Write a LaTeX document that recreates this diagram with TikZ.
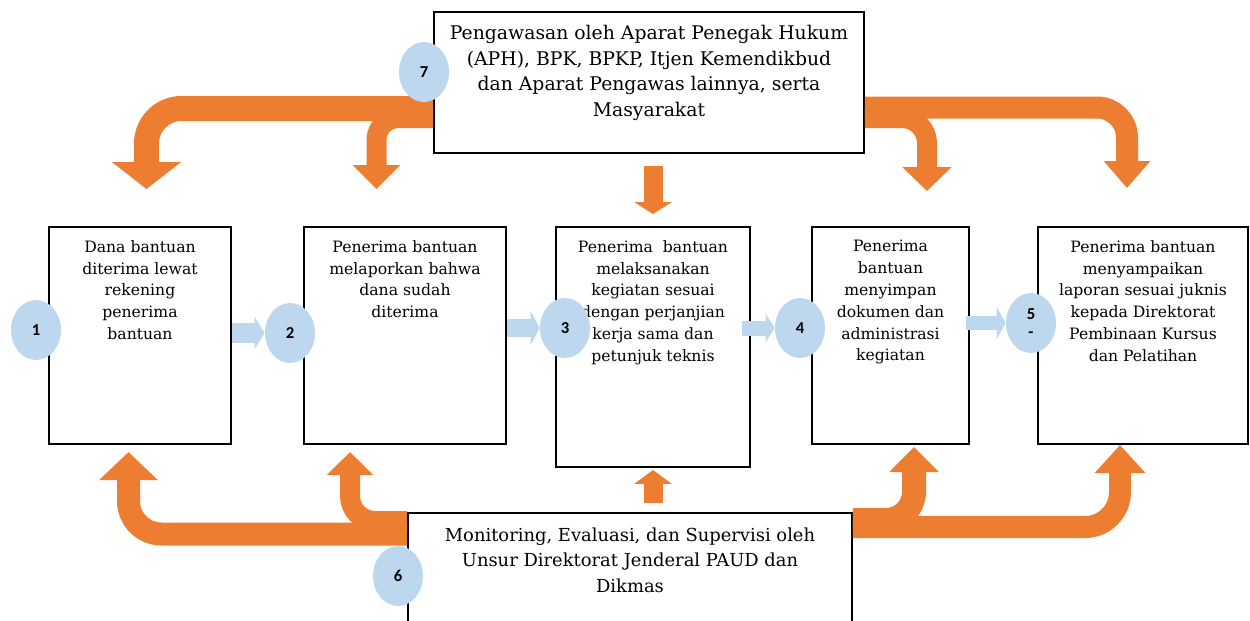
\documentclass[tikz,border=0pt]{standalone}
\usepackage{fontspec}
\setmainfont{DejaVu Serif}
\newfontfamily\numfont{Carlito}
\usetikzlibrary{arrows.meta,shapes.geometric}
\pgfdeclarelayer{front}
\pgfsetlayers{main,front}
\definecolor{orangeflow}{HTML}{ED7D31}
\definecolor{paleblue}{HTML}{BDD7EE}
\tikzset{
  box/.style={draw, line width=1.1pt, inner sep=0pt},
  boxtext/.style={align=center, inner sep=0pt, anchor=north, font=\fontsize{8.9}{12.4}\selectfont},
  bigtext/.style={align=center, inner sep=0pt, anchor=north, font=\fontsize{10.7}{14.6}\selectfont},
  num/.style={ellipse, fill=paleblue, inner sep=0pt, minimum width=1cm, minimum height=1.2cm,
    align=center, font=\numfont\bfseries\fontsize{9.5}{10}\selectfont},
  stepflow/.style args={#1/#2/#3}{draw=paleblue, line width=#1, -{Triangle[width=#2,length=#3]}},
  bendflow/.style args={#1/#2/#3/#4}{draw=orangeflow, line width=#1, rounded corners=#2,
    -{Triangle[width=#3,length=#4]}}
}
\begin{document}
\begin{tikzpicture}[x=0.02cm, y=-0.02cm]
\useasboundingbox (0,0) rectangle (1250,620);
% kotak langkah
\node[box, minimum width=3.64cm, minimum height=4.34cm] (b1) at (140,335.5) {};
\node[box, minimum width=4.04cm, minimum height=4.34cm] (b2) at (405,335.5) {};
\node[box, minimum width=3.88cm, minimum height=4.8cm] (b3) at (653,347) {};
\node[box, minimum width=3.14cm, minimum height=4.34cm] (b4) at (890.5,335.5) {};
\node[box, minimum width=4.2cm, minimum height=4.34cm] (b5) at (1143,335.5) {};
\node[box, minimum width=8.6cm, minimum height=2.82cm] (t) at (649,82.5) {};
\node[box, minimum width=8.88cm, minimum height=2.6cm] (m) at (630,578) {};
\node[boxtext] (l1) at ([yshift=-0.28cm]b1.north) {Dana bantuan\\diterima lewat\\rekening\\penerima\\bantuan};
\node[boxtext] (l2) at ([yshift=-0.28cm]b2.north) {Penerima bantuan\\melaporkan bahwa\\dana sudah\\diterima};
\node[boxtext] (l3) at ([yshift=-0.28cm]b3.north) {Penerima\ \ bantuan\\melaksanakan\\kegiatan sesuai\\dengan perjanjian\\kerja sama dan\\petunjuk teknis};
\node[boxtext] (l4) at ([yshift=-0.28cm]b4.north) {Penerima\\bantuan\\menyimpan\\dokumen dan\\administrasi\\kegiatan};
\node[boxtext] (l5) at ([yshift=-0.28cm]b5.north) {Penerima bantuan\\menyampaikan\\laporan sesuai juknis\\kepada Direktorat\\Pembinaan Kursus\\dan Pelatihan};
\node[bigtext] (lt) at ([yshift=-0.28cm]t.north) {Pengawasan oleh Aparat Penegak Hukum\\(APH), BPK, BPKP, Itjen Kemendikbud\\dan Aparat Pengawas lainnya, serta\\Masyarakat};
\node[bigtext, font=\fontsize{10.2}{14.6}\selectfont] (lm) at ([yshift=-0.3cm]m.north) {Monitoring, Evaluasi, dan Supervisi oleh\\Unsur Direktorat Jenderal PAUD dan\\Dikmas};
% nomor
\begin{pgfonlayer}{front}
\node[num] (c1) at (36,330) {1};
\node[num] (c2) at (290,333) {2};
\node[num] (c3) at (565,328) {3};
\node[num] (c4) at (800,328) {4};
\node[num] (c5) at (1031,323) {5\\-};
\node[num] (c6) at (398,576) {6};
\node[num] (c7) at (424,72) {7};
\end{pgfonlayer}
% alur antar langkah
\draw[stepflow=0.4cm/0.64cm/0.2cm] (b1.east |- c2) -- (c2.west);
\draw[stepflow=0.36cm/0.66cm/0.18cm] (b2.east |- c3) -- (c3.west);
\draw[stepflow=0.3cm/0.56cm/0.18cm] ([xshift=-0.18cm]b3.east |- c4) -- (c4.west);
\draw[stepflow=0.28cm/0.64cm/0.18cm] ([xshift=-0.08cm]b4.east |- c5) -- (c5.west);
% pengawasan
\draw[bendflow=0.5cm/0.7cm/1.36cm/0.54cm] (t.west |- 0,108.5) -| (146.5,189);
\draw[bendflow=0.4cm/0.44cm/0.92cm/0.48cm] (t.west |- 0,118) -| (376.5,189);
\draw[bendflow=0.4cm/0.5cm/0.96cm/0.48cm] (t.east |- 0,118) -| (927,191);
\draw[bendflow=0.44cm/0.6cm/0.9cm/0.54cm] (t.east |- 0,107.5) -| (1127,188);
\draw[bendflow=0.38cm/0cm/0.74cm/0.24cm] ([yshift=1.2cm]b3.north) -- ([yshift=0.24cm]b3.north);
% monitoring
\draw[bendflow=0.46cm/0.66cm/1.14cm/0.56cm] (m.west |- 0,534) -| (128.5,452);
\draw[bendflow=0.4cm/0.5cm/0.9cm/0.46cm] (m.west |- 0,521) -| (350,452);
\draw[bendflow=0.48cm/0.56cm/0.96cm/0.5cm] (m.east |- 0,520) -| (914,447);
\draw[bendflow=0.44cm/0.7cm/0.98cm/0.56cm] (m.east |- 0,527) -| (1120,445);
\draw[bendflow=0.38cm/0cm/0.74cm/0.28cm] ([yshift=-0.7cm]b3.south) -- ([yshift=-0.04cm]b3.south);
\end{tikzpicture}
\end{document}
